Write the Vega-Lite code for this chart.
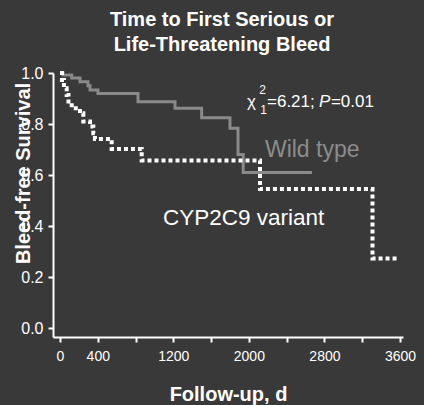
{
  "$schema": "https://vega.github.io/schema/vega-lite/v6.json",
  "autosize": "none",
  "width": 350,
  "height": 264,
  "padding": {"left": 53, "top": 73, "right": 21, "bottom": 68},
  "background": "#393939",
  "config": {
    "view": {"stroke": null},
    "font": "Liberation Sans",
    "axis": {
      "grid": false,
      "domainColor": "#ffffff",
      "domainWidth": 2,
      "tickColor": "#ffffff",
      "tickWidth": 2,
      "tickSize": 5,
      "labelColor": "#ffffff",
      "titleColor": "#ffffff",
      "labelOverlap": false,
      "labelFlush": false
    }
  },
  "title": {
    "text": ["Time to First Serious or", "Life-Threatening Bleed"],
    "color": "#ffffff",
    "font": "Liberation Sans",
    "fontSize": 20,
    "fontWeight": "bold",
    "lineHeight": 25,
    "anchor": "middle",
    "dx": -6,
    "offset": 10
  },
  "datasets": {
    "curves": [
      {"group": "Wild type", "day": 0, "surv": 1.0},
      {"group": "Wild type", "day": 32, "surv": 0.992},
      {"group": "Wild type", "day": 124, "surv": 0.98},
      {"group": "Wild type", "day": 212, "surv": 0.966},
      {"group": "Wild type", "day": 296, "surv": 0.95},
      {"group": "Wild type", "day": 318, "surv": 0.933},
      {"group": "Wild type", "day": 402, "surv": 0.92},
      {"group": "Wild type", "day": 826, "surv": 0.887},
      {"group": "Wild type", "day": 1218, "surv": 0.862},
      {"group": "Wild type", "day": 1500, "surv": 0.825},
      {"group": "Wild type", "day": 1800, "surv": 0.783},
      {"group": "Wild type", "day": 1885, "surv": 0.68},
      {"group": "Wild type", "day": 1940, "surv": 0.61},
      {"group": "Wild type", "day": 2668, "surv": 0.61},
      {"group": "CYP2C9 variant", "day": 0, "surv": 1.0},
      {"group": "CYP2C9 variant", "day": 21, "surv": 0.973},
      {"group": "CYP2C9 variant", "day": 42, "surv": 0.94},
      {"group": "CYP2C9 variant", "day": 71, "surv": 0.914},
      {"group": "CYP2C9 variant", "day": 90, "surv": 0.888},
      {"group": "CYP2C9 variant", "day": 124, "surv": 0.862},
      {"group": "CYP2C9 variant", "day": 212, "surv": 0.842},
      {"group": "CYP2C9 variant", "day": 247, "surv": 0.81},
      {"group": "CYP2C9 variant", "day": 318, "surv": 0.79},
      {"group": "CYP2C9 variant", "day": 353, "surv": 0.764},
      {"group": "CYP2C9 variant", "day": 370, "surv": 0.741},
      {"group": "CYP2C9 variant", "day": 547, "surv": 0.702},
      {"group": "CYP2C9 variant", "day": 865, "surv": 0.657},
      {"group": "CYP2C9 variant", "day": 2118, "surv": 0.545},
      {"group": "CYP2C9 variant", "day": 3309, "surv": 0.273},
      {"group": "CYP2C9 variant", "day": 3568, "surv": 0.273}
    ]
  },
  "layer": [
    {
      "data": {"name": "curves"},
      "transform": [{"filter": "datum.group === 'Wild type'"}],
      "mark": {"type": "line", "interpolate": "step-after", "color": "#8a8a8a", "strokeWidth": 3},
      "encoding": {
        "x": {
          "field": "day", "type": "quantitative",
          "scale": {"domain": [-74, 3632], "nice": false, "zero": false},
          "axis": {
            "values": [0, 400, 800, 1200, 1600, 2000, 2400, 2800, 3200, 3600],
            "tickCount": 20,
            "format": "d",
            "labelExpr": "(datum.value == 0 || datum.value == 400 || datum.value == 1200 || datum.value == 2000 || datum.value == 2800 || datum.value == 3600) ? datum.label : ''",
            "labelFont": "Liberation Sans",
            "labelFontSize": 14,
            "labelPadding": 7,
            "labelFlush": false,
            "labelOverlap": false,
            "title": "Follow-up, d",
            "titleFont": "Liberation Sans",
            "titleFontSize": 20,
            "titleFontWeight": "bold",
            "titleBaseline": "alphabetic",
            "titleY": 63
          }
        },
        "y": {
          "field": "surv", "type": "quantitative",
          "scale": {"domain": [-0.035, 1.0], "nice": false, "zero": false},
          "axis": {
            "values": [0, 0.2, 0.4, 0.6, 0.8, 1.0],
            "tickCount": 20,
            "format": ".1f",
            "labelFont": "Liberation Sans",
            "labelFontSize": 16,
            "labelPadding": 5,
            "labelFlush": false,
            "labelOverlap": false,
            "title": "Bleed-free Survival",
            "titleFont": "Liberation Sans",
            "titleFontSize": 20,
            "titleFontWeight": "bold",
            "titleAngle": 270,
            "titleAlign": "center",
            "titleBaseline": "middle",
            "titleX": -30,
            "titleY": 100
          }
        }
      }
    },
    {
      "data": {"name": "curves"},
      "transform": [{"filter": "datum.group === 'CYP2C9 variant'"}],
      "mark": {"type": "line", "interpolate": "step-after", "color": "#ffffff", "strokeWidth": 4, "strokeDash": [4, 3], "strokeCap": "butt"},
      "encoding": {
        "x": {"field": "day", "type": "quantitative"},
        "y": {"field": "surv", "type": "quantitative"}
      }
    },
    {
      "data": {"values": [{"label": "Wild type", "day": 2170, "surv": 0.67}]},
      "mark": {"type": "text", "align": "left", "baseline": "alphabetic", "font": "Liberation Sans", "fontSize": 23, "color": "#8c8c8c"},
      "encoding": {
        "x": {"field": "day", "type": "quantitative"},
        "y": {"field": "surv", "type": "quantitative"},
        "text": {"field": "label"}
      }
    },
    {
      "data": {"values": [{"label": "CYP2C9 variant", "day": 1091, "surv": 0.404}]},
      "mark": {"type": "text", "align": "left", "baseline": "alphabetic", "font": "Liberation Sans", "fontSize": 22.5, "color": "#ffffff"},
      "encoding": {
        "x": {"field": "day", "type": "quantitative"},
        "y": {"field": "surv", "type": "quantitative"},
        "text": {"field": "label"}
      }
    },
    {
      "data": {"values": [
        {"label": "χ", "day": 1980, "surv": 0.867},
        {"label": "=6.21;", "day": 2192, "surv": 0.867},
        {"label": "=0.01", "day": 2869, "surv": 0.867}
      ]},
      "mark": {"type": "text", "align": "left", "baseline": "alphabetic", "font": "Liberation Sans", "fontSize": 17, "color": "#ffffff"},
      "encoding": {
        "x": {"field": "day", "type": "quantitative"},
        "y": {"field": "surv", "type": "quantitative"},
        "text": {"field": "label"}
      }
    },
    {
      "data": {"values": [{"label": "P", "day": 2742, "surv": 0.867}]},
      "mark": {"type": "text", "align": "left", "baseline": "alphabetic", "font": "Liberation Sans", "fontSize": 17, "fontStyle": "italic", "color": "#ffffff"},
      "encoding": {
        "x": {"field": "day", "type": "quantitative"},
        "y": {"field": "surv", "type": "quantitative"},
        "text": {"field": "label"}
      }
    },
    {
      "data": {"values": [
        {"label": "2", "day": 2110, "surv": 0.916},
        {"label": "1", "day": 2120, "surv": 0.84}
      ]},
      "mark": {"type": "text", "align": "left", "baseline": "alphabetic", "font": "Liberation Sans", "fontSize": 12, "color": "#ffffff"},
      "encoding": {
        "x": {"field": "day", "type": "quantitative"},
        "y": {"field": "surv", "type": "quantitative"},
        "text": {"field": "label"}
      }
    }
  ]
}
